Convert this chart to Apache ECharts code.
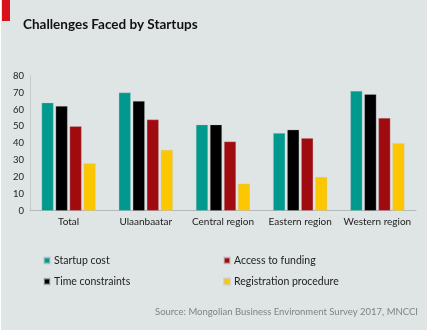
<!DOCTYPE html>
<html>
<head>
<meta charset="utf-8">
<script src="https://cdn.jsdelivr.net/npm/echarts@6/dist/echarts.min.js"></script>
<style>
  html, body { margin: 0; padding: 0; background: #ffffff; }
  #chart { width: 428px; height: 330px; }
</style>
</head>
<body>
<div id="chart"></div>
<script>
// Regions surveyed
const categories = ['Total', 'Ulaanbaatar', 'Central region', 'Eastern region', 'Western region'];

// Share of startups reporting each challenge (%)
const startupCost = [64, 70, 51, 46, 71];
const timeConstraints = [62, 65, 51, 48, 69];
const accessToFunding = [50, 54, 41, 43, 55];
const registrationProcedure = [28, 36, 16, 20, 40];

const yTicks = { min: 0, max: 80, interval: 10 };

const seriesNames = ['Startup cost', 'Time constraints', 'Access to funding', 'Registration procedure'];
const seriesColors = ['#00998e', '#000000', '#a00b10', '#fcc600'];
const seriesValues = [startupCost, timeConstraints, accessToFunding, registrationProcedure];

const FONT = 'Lato, "Open Sans", sans-serif';

const chart = echarts.init(document.getElementById('chart'), null, { renderer: 'canvas' });

const legendBase = {
  orient: 'vertical', top: 250, itemGap: 10,
  itemWidth: 6, itemHeight: 6, icon: 'rect',
  textStyle: { fontFamily: FONT, fontSize: 10.5, color: '#222', padding: [0, 0, 0, -1] }
};

chart.setOption({
  backgroundColor: '#ffffff',
  animation: false,
  graphic: [
    { type: 'rect', left: 1, top: 0, shape: { width: 426, height: 330 }, style: { fill: '#dfe4e4' }, silent: true, z: -10 },
    { type: 'rect', left: 2, top: 0, shape: { width: 8, height: 21 }, style: { fill: '#d7121b' }, silent: true },
    {
      type: 'text', right: 10, top: 307,
      style: { text: 'Source: Mongolian Business Environment Survey 2017, MNCCI', fill: '#7d8486', font: '9.5px ' + FONT }
    }
  ],
  title: {
    text: 'Challenges Faced by Startups',
    left: 18, top: 13,
    textStyle: { fontFamily: FONT, fontSize: 13.5, fontWeight: 'bold', color: '#111' }
  },
  legend: [
    Object.assign({}, legendBase, { data: seriesNames.slice(0, 2), left: 38 }),
    Object.assign({}, legendBase, { data: seriesNames.slice(2), left: 218 })
  ],
  grid: { left: 30, right: 12, top: 75.7, bottom: 119.3, containLabel: false },
  xAxis: {
    type: 'category',
    data: categories,
    axisLine: { show: true, lineStyle: { color: '#b3b8b9', width: 1 } },
    axisTick: { show: false },
    axisLabel: { interval: 0, fontFamily: FONT, fontSize: 10, color: '#222', margin: 6 }
  },
  yAxis: {
    type: 'value',
    min: yTicks.min, max: yTicks.max, interval: yTicks.interval,
    axisLine: { show: true, lineStyle: { color: '#c4c9ca', width: 1 } },
    axisTick: { show: false },
    splitLine: { show: false },
    axisLabel: { fontFamily: FONT, fontSize: 9.5, color: '#222', margin: 6 }
  },
  series: seriesNames.map((name, i) => ({
    name,
    type: 'bar',
    data: seriesValues[i],
    barGap: '17%',
    barCategoryGap: '30%',
    itemStyle: { color: seriesColors[i], borderColor: 'rgba(200,200,200,0.6)', borderWidth: 0.5 }
  }))
});
</script>
</body>
</html>
